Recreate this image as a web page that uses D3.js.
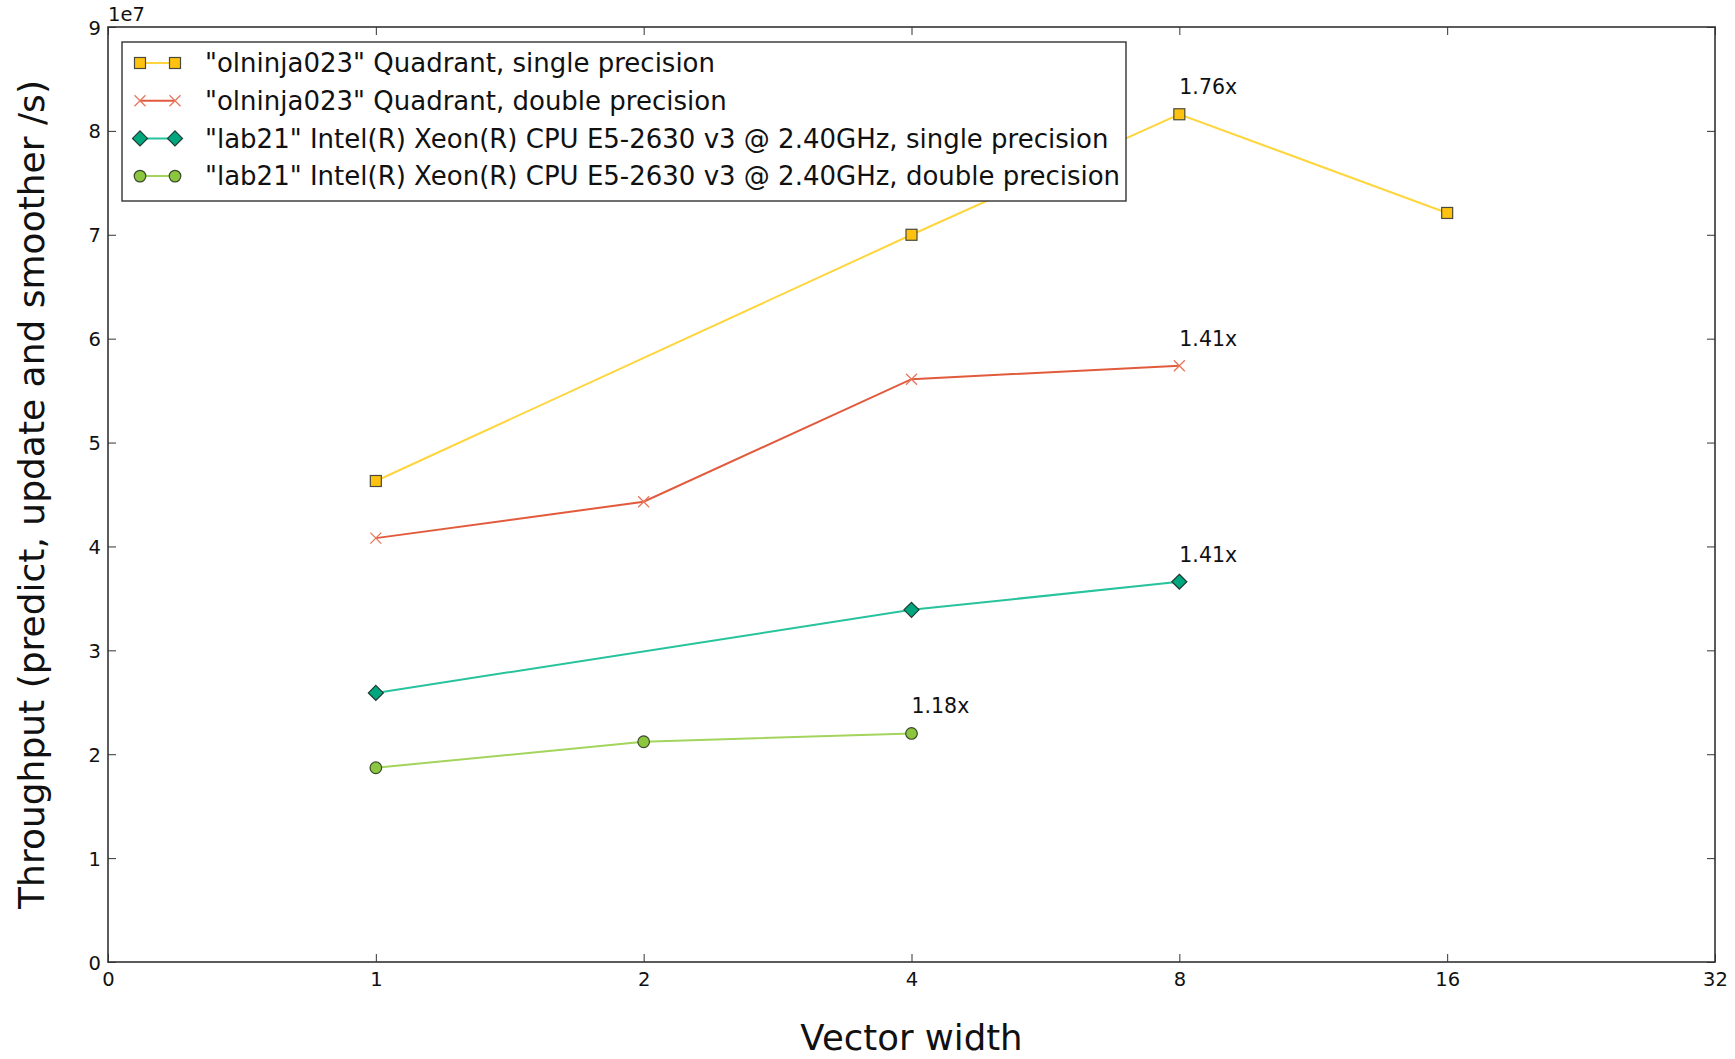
<!DOCTYPE html>
<html lang="en">
<head>
    <meta charset="utf-8">
    <title>Throughput vs vector width</title>
    <script src="https://d3js.org/d3.v7.min.js"></script>
    <style>
        body { margin: 0; background: #fff; }
        svg text { font-family: "DejaVu Sans", sans-serif; fill: #111; }
    </style>
</head>
<body>
<svg class="chart"></svg>
<script>
    // data
    var xTicks = ["0", "1", "2", "4", "8", "16", "32"];
    var yTicks = [0, 1, 2, 3, 4, 5, 6, 7, 8, 9];

    var seriesNames = [
        '"olninja023" Quadrant, single precision',
        '"olninja023" Quadrant, double precision',
        '"lab21" Intel(R) Xeon(R) CPU E5-2630 v3 @ 2.40GHz, single precision',
        '"lab21" Intel(R) Xeon(R) CPU E5-2630 v3 @ 2.40GHz, double precision'
    ];
    var knlSingle = [{w: "1", v: 4.63}, {w: "4", v: 7.00}, {w: "8", v: 8.16}, {w: "16", v: 7.21}];
    var knlDouble = [{w: "1", v: 4.08}, {w: "2", v: 4.43}, {w: "4", v: 5.61}, {w: "8", v: 5.74}];
    var xeonSingle = [{w: "1", v: 2.59}, {w: "4", v: 3.39}, {w: "8", v: 3.66}];
    var xeonDouble = [{w: "1", v: 1.87}, {w: "2", v: 2.12}, {w: "4", v: 2.20}];
    var speedups = [
        {w: "8", v: 8.16, label: "1.76x"},
        {w: "8", v: 5.74, label: "1.41x"},
        {w: "8", v: 3.66, label: "1.41x"},
        {w: "4", v: 2.20, label: "1.18x"}
    ];

    var series = [
        {name: seriesNames[0], data: knlSingle, line: "#ffd53d", fill: "#ffc20e", marker: "square"},
        {name: seriesNames[1], data: knlDouble, line: "#e25a3c", fill: "#e8765d", marker: "x"},
        {name: seriesNames[2], data: xeonSingle, line: "#27c39d", fill: "#00a67e", marker: "diamond"},
        {name: seriesNames[3], data: xeonDouble, line: "#a3d45c", fill: "#8cc63f", marker: "circle"}
    ];

    function draw() {
        var W = 1735, H = 1059;
        var margin = {top: 27, right: 20, bottom: 97, left: 108};
        var width = W - margin.left - margin.right,
            height = H - margin.top - margin.bottom;

        var svg = d3.select(".chart").attr("width", W).attr("height", H);
        var chart = svg.append("g")
            .attr("transform", "translate(" + margin.left + "," + margin.top + ")");

        var x = d3.scalePoint().domain(xTicks).range([0, width]);
        var y = d3.scaleLinear().domain([0, 9]).range([height, 0]);

        var axisColor = "#333";

        // axes, ticks pointing inward like matplotlib classic
        var xAxisBottom = chart.append("g").attr("transform", "translate(0," + height + ")")
            .call(d3.axisBottom(x).tickSizeInner(-8).tickSizeOuter(0).tickPadding(10));
        var xAxisTop = chart.append("g")
            .call(d3.axisTop(x).tickSizeInner(-8).tickSizeOuter(0).tickFormat(""));
        var yAxisLeft = chart.append("g")
            .call(d3.axisLeft(y).tickValues(yTicks).tickSizeInner(-8).tickSizeOuter(0).tickPadding(7).tickFormat(d3.format("d")));
        var yAxisRight = chart.append("g").attr("transform", "translate(" + width + ",0)")
            .call(d3.axisRight(y).tickValues(yTicks).tickSizeInner(-8).tickSizeOuter(0).tickFormat(""));

        [xAxisBottom, xAxisTop, yAxisLeft, yAxisRight].forEach(function (g) {
            g.select(".domain").remove();
            g.selectAll("line").attr("stroke", axisColor).attr("stroke-width", 1);
            g.selectAll("text").style("font-size", "19.5px").attr("fill", "#111");
        });
        yAxisLeft.selectAll(".tick text").attr("dy", "0.36em");

        // frame
        chart.append("rect")
            .attr("width", width).attr("height", height)
            .attr("fill", "none").attr("stroke", axisColor).attr("stroke-width", 1.6);

        chart.append("text")
            .attr("x", 0).attr("y", -6)
            .style("font-size", "19.5px")
            .text("1e7");

        var line = d3.line()
            .x(function (d) { return x(d.w); })
            .y(function (d) { return y(d.v); });

        function drawMarker(g, type, fill, cx, cy) {
            if (type === "square") {
                g.append("rect").attr("x", cx - 5.5).attr("y", cy - 5.5)
                    .attr("width", 11).attr("height", 11)
                    .attr("fill", fill).attr("stroke", "#4a4a3a").attr("stroke-width", 1.2);
            } else if (type === "x") {
                var s = 5.5;
                g.append("path")
                    .attr("d", "M" + (cx - s) + "," + (cy - s) + "L" + (cx + s) + "," + (cy + s) +
                        "M" + (cx - s) + "," + (cy + s) + "L" + (cx + s) + "," + (cy - s))
                    .attr("stroke", fill).attr("stroke-width", 1.3).attr("fill", "none");
            } else if (type === "diamond") {
                var r = 7.5;
                g.append("path")
                    .attr("d", "M" + cx + "," + (cy - r) + "L" + (cx + r) + "," + cy +
                        "L" + cx + "," + (cy + r) + "L" + (cx - r) + "," + cy + "Z")
                    .attr("fill", fill).attr("stroke", "#1f3a33").attr("stroke-width", 1.2);
            } else {
                g.append("circle").attr("cx", cx).attr("cy", cy).attr("r", 5.8)
                    .attr("fill", fill).attr("stroke", "#3a4a2a").attr("stroke-width", 1.2);
            }
        }

        series.forEach(function (s) {
            chart.append("path")
                .datum(s.data)
                .attr("d", line)
                .attr("fill", "none")
                .attr("stroke", s.line)
                .attr("stroke-width", 2);
            var mg = chart.append("g");
            s.data.forEach(function (d) {
                drawMarker(mg, s.marker, s.fill, x(d.w), y(d.v));
            });
        });

        chart.selectAll(".speedup")
            .data(speedups)
            .enter().append("text")
            .attr("class", "speedup")
            .attr("x", function (d) { return x(d.w); })
            .attr("y", function (d) { return y(d.v) - 20; })
            .style("font-size", "20.5px")
            .text(function (d) { return d.label; });

        // legend
        var legend = chart.append("g").attr("transform", "translate(14,15)");
        legend.append("rect")
            .attr("width", 1004).attr("height", 159)
            .attr("fill", "#fff").attr("stroke", axisColor).attr("stroke-width", 1.4);
        series.forEach(function (s, i) {
            var cy = 21 + i * 37.7;
            var row = legend.append("g");
            row.append("line")
                .attr("x1", 18).attr("x2", 53).attr("y1", cy).attr("y2", cy)
                .attr("stroke", s.line).attr("stroke-width", 2);
            drawMarker(row, s.marker, s.fill, 18, cy);
            drawMarker(row, s.marker, s.fill, 53, cy);
            row.append("text")
                .attr("x", 83).attr("y", cy).attr("dy", "0.35em")
                .style("font-size", "26px")
                .text(s.name);
        });

        // axis titles
        svg.append("text")
            .attr("x", margin.left + width / 2).attr("y", H - 9)
            .attr("text-anchor", "middle")
            .style("font-size", "35.5px")
            .text("Vector width");

        svg.append("text")
            .attr("transform", "translate(44," + (margin.top + height / 2) + ") rotate(-90)")
            .attr("text-anchor", "middle")
            .style("font-size", "36px")
            .text("Throughput (predict, update and smoother /s)");
    }

    draw();
</script>
</body>
</html>
